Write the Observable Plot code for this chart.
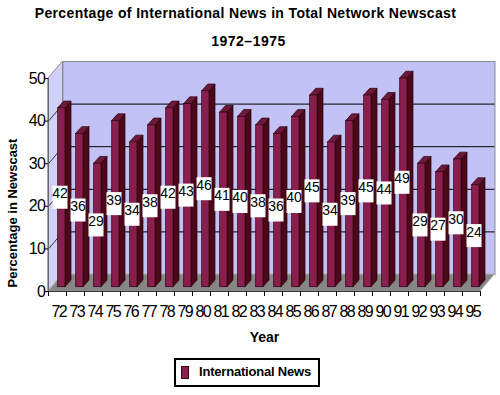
<!DOCTYPE html>
<html>
<head>
<meta charset="utf-8">
<script src="https://cdn.jsdelivr.net/npm/d3@7"></script>
<script src="https://cdn.jsdelivr.net/npm/@observablehq/plot@0.6"></script>
<style>
  html, body { margin: 0; padding: 0; background: #fff; overflow: hidden; }
  body { width: 500px; height: 395px; position: relative; font-family: "Liberation Sans", Arial, sans-serif; }
  #chart { position: absolute; left: 0; top: 0; }
  .title { position: absolute; left: 0; width: 491px; text-align: center; font-weight: bold; font-size: 14px; line-height: 16px; color: #000; }
  #legend { position: absolute; left: 174px; top: 358px; width: 142px; height: 25px; border: 2px solid #000; background: #fff; }
  #legend .sw { position: absolute; left: 5px; top: 6px; width: 6px; height: 11px; background: #8a1f4f; border: 1px solid #3a0010; }
  #legend .lb { position: absolute; left: 23px; top: 4px; font-weight: bold; font-size: 13px; line-height: 15px; letter-spacing: -0.2px; white-space: nowrap; }
  g[aria-label="x-axis tick label"] text { letter-spacing: -1.5px; }
  g[aria-label="y-axis tick label"] text { letter-spacing: -0.5px; }
</style>
</head>
<body>
<div class="title" id="t1" style="top:5px; letter-spacing:0.35px;"></div>
<div class="title" id="t2" style="top:33px; width:497px; letter-spacing:0.5px;"></div>
<div id="chart"></div>
<div id="legend"><div class="sw"></div><div class="lb" id="lg"></div></div>
<script>
// ---- data ----
const titleText = "Percentage of International News in Total Network Newscast";
const subtitleText = "1972\u20131975";
const yTitle = "Percentage in Newscast";
const xTitle = "Year";
const seriesName = "International News";
const years = ["72","73","74","75","76","77","78","79","80","81","82","83","84","85","86","87","88","89","90","91","92","93","94","95"];
const values = [42,36,29,39,34,38,42,43,46,41,40,38,36,40,45,34,39,45,44,49,29,27,30,24];
const yTicks = [0,10,20,30,40,50];
const gridValues = [10,20,30,40];

// ---- layout ----
const W = 500, H = 350, mL = 48, mR = 20, mT = 78, mB = 59;
const yMax = 50;
const pxX = (W - mL - mR) / years.length;   // px per category
const pxY = (H - mT - mB) / yMax;           // px per percent
const ux = px => px / pxX, uy = px => px / pxY;
const wallDX = 14.5, wallDY = 17;           // depth of back wall (px)
const barDX = 6, barDY = 6.7;               // bar depth (px)
const barLift = 4.3;                        // bar position inside depth (px)
const barL = 9.7, barR = 17;                // bar front face inside band (px)

const bars = values.map((v, i) => ({i, v, year: years[i], x1: i + ux(barL), x2: i + ux(barR)}));
const sideRows = bars.flatMap(b => [
  {i: b.i, x: b.x2, y1: 0, y2: b.v},
  {i: b.i, x: b.x2 + ux(barDX), y1: uy(barDY), y2: b.v + uy(barDY)}
]);
const topRows = bars.flatMap(b => [
  {i: b.i, y: b.v, x1: b.x1, x2: b.x2},
  {i: b.i, y: b.v + uy(barDY), x1: b.x1 + ux(barDX), x2: b.x2 + ux(barDX)}
]);
const n = years.length;
const sideWall = [{x: 0, y1: 0, y2: yMax}, {x: ux(wallDX), y1: uy(wallDY), y2: yMax + uy(wallDY)}];
const floor = [{y: 0, x1: 0, x2: n}, {y: uy(wallDY), x1: ux(wallDX), x2: n + ux(wallDX)}];

const cFront = "#8a1f4f", cSide = "#4a0818", cTop = "#6c1a3c", cEdge = "#2a0008";

const chart = Plot.plot({
  width: W, height: H,
  marginLeft: mL, marginRight: mR, marginTop: mT, marginBottom: mB,
  style: {fontFamily: "'Liberation Sans', Arial, sans-serif", background: "transparent", overflow: "visible"},
  x: {type: "linear", domain: [0, n], axis: null},
  y: {type: "linear", domain: [0, yMax], axis: null},
  marks: [
    // back wall
    Plot.frame({fill: "#c2c2f7", stroke: "#8e8e8e", dx: wallDX, dy: -wallDY}),
    // left side wall
    Plot.areaY(sideWall, {x: "x", y1: "y1", y2: "y2", fill: "#d0d0fa", stroke: "#8e8e8e", strokeWidth: 1}),
    // gridlines
    Plot.ruleY(gridValues, {dx: wallDX, dy: -wallDY, stroke: "#000", strokeWidth: 1}),
    Plot.link(gridValues, {x1: 0, y1: d => d, x2: ux(wallDX), y2: d => d + uy(wallDY), stroke: "#333", strokeWidth: 1}),
    // floor
    Plot.areaX(floor, {y: "y", x1: "x1", x2: "x2", fill: "#868686", stroke: "#b0b0b0", strokeWidth: 1}),
    // bars
    Plot.areaY(sideRows, {x: "x", y1: "y1", y2: "y2", z: "i", fill: cSide, stroke: cEdge, strokeWidth: 0.7, dy: -barLift, curve: "linear"}),
    Plot.areaX(topRows, {y: "y", x1: "x1", x2: "x2", z: "i", fill: cTop, stroke: cEdge, strokeWidth: 0.7, dy: -barLift, curve: "linear"}),
    Plot.rect(bars, {x1: "x1", x2: "x2", y1: 0, y2: "v", fill: cFront, stroke: cEdge, strokeWidth: 0.7, dy: -barLift}),
    // value labels
    Plot.rect(bars, {x1: d => d.i + 0.5 + ux(3) - ux(7.5), x2: d => d.i + 0.5 + ux(3) + ux(7.5),
                     y1: d => d.v / 2 - uy(11.5), y2: d => d.v / 2 + uy(11.5), fill: "#fff", dy: -barLift}),
    Plot.text(bars, {x: d => d.i + 0.5 + ux(3), y: d => d.v / 2, text: d => String(d.v), fill: "#000",
                     fontSize: 14, dy: -barLift - 4, dx: -0.5}),
    // axes
    Plot.ruleX([0], {y1: 0, y2: yMax, stroke: "#666"}),
    Plot.ruleY([0], {x1: 0, x2: n, stroke: "#333"}),
    Plot.axisY({ticks: yTicks, tickSize: 3, tickPadding: 0, fontSize: 16, label: null, tickFormat: d => String(d)}),
    Plot.axisX({ticks: d3.range(0, n + 1), tickSize: 5, tickFormat: () => "", label: null}),
    Plot.axisX({ticks: d3.range(n).map(i => i + 0.5), tickSize: 0, tickPadding: 14, fontSize: 16, label: null,
                tickFormat: d => years[Math.floor(d)], dx: 1.3}),
    // axis titles
    Plot.text([yTitle], {frameAnchor: "left", rotate: -90, textAnchor: "middle", dx: -35.5, dy: 28,
                         fontSize: 13, fontWeight: "bold"}),
    Plot.text([xTitle], {frameAnchor: "bottom", textAnchor: "middle", dy: 50, fontSize: 14, fontWeight: "bold"})
  ]
});
document.getElementById("chart").appendChild(chart);
document.getElementById("t1").textContent = titleText;
document.getElementById("t2").textContent = subtitleText;
document.getElementById("lg").textContent = seriesName;
</script>
</body>
</html>
